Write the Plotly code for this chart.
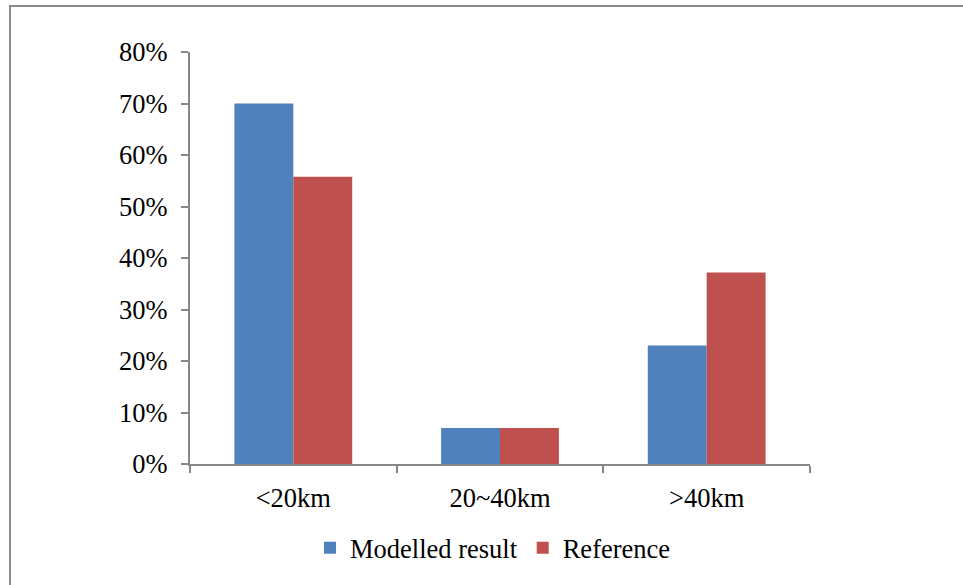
import plotly.graph_objects as go

categories = ["<20km", "20~40km", ">40km"]
modelled = [0.70, 0.07, 0.23]
reference = [0.558, 0.07, 0.372]
y_ticks = [0, 0.1, 0.2, 0.3, 0.4, 0.5, 0.6, 0.7, 0.8]

W, H = 963, 585
L, R, T, B = 190, 153, 52, 121
pw, ph = W - L - R, H - T - B

font = dict(family="Times New Roman, Liberation Serif, serif", size=26.5, color="#000000")

fig = go.Figure()
fig.add_trace(go.Bar(name="Modelled result", x=categories, y=modelled,
                     marker=dict(color="#4F81BD", line=dict(width=0))))
fig.add_trace(go.Bar(name="Reference", x=categories, y=reference,
                     marker=dict(color="#C0504D", line=dict(width=0))))

fig.update_layout(
    width=W, height=H,
    margin=dict(l=L, r=R, t=T, b=B, pad=0),
    paper_bgcolor="white", plot_bgcolor="white",
    barmode="group", bargap=0.43, bargroupgap=0,
    font=font,
    showlegend=True,
    legend=dict(orientation="h", x=(493 - L) / pw, xanchor="center", y=-(548 - 464) / ph,
                yanchor="middle", font=font, traceorder="normal", itemwidth=30),
    xaxis=dict(showgrid=False, showline=True, linecolor="#868686", linewidth=2,
               ticks="outside", ticklen=7, tickcolor="#868686", tickwidth=2,
               tickson="boundaries", tickfont=font, ticklabelstandoff=9),
    yaxis=dict(range=[0, 0.8], tickvals=y_ticks, tickformat=".0%", showgrid=False,
               zeroline=False, showline=True, linecolor="#868686", linewidth=2,
               ticks="outside", ticklen=7, tickcolor="#868686", tickwidth=2,
               tickfont=font, ticklabelstandoff=8),
    shapes=[dict(type="rect", xref="paper", yref="paper",
                 x0=(10 - L) / pw, x1=(W + 50 - L) / pw,
                 y0=-(H + 50 - (T + ph)) / ph, y1=(T + ph - 6) / ph,
                 line=dict(color="#8C8C8C", width=2), layer="below")],
)

fig.write_html("out.html")
